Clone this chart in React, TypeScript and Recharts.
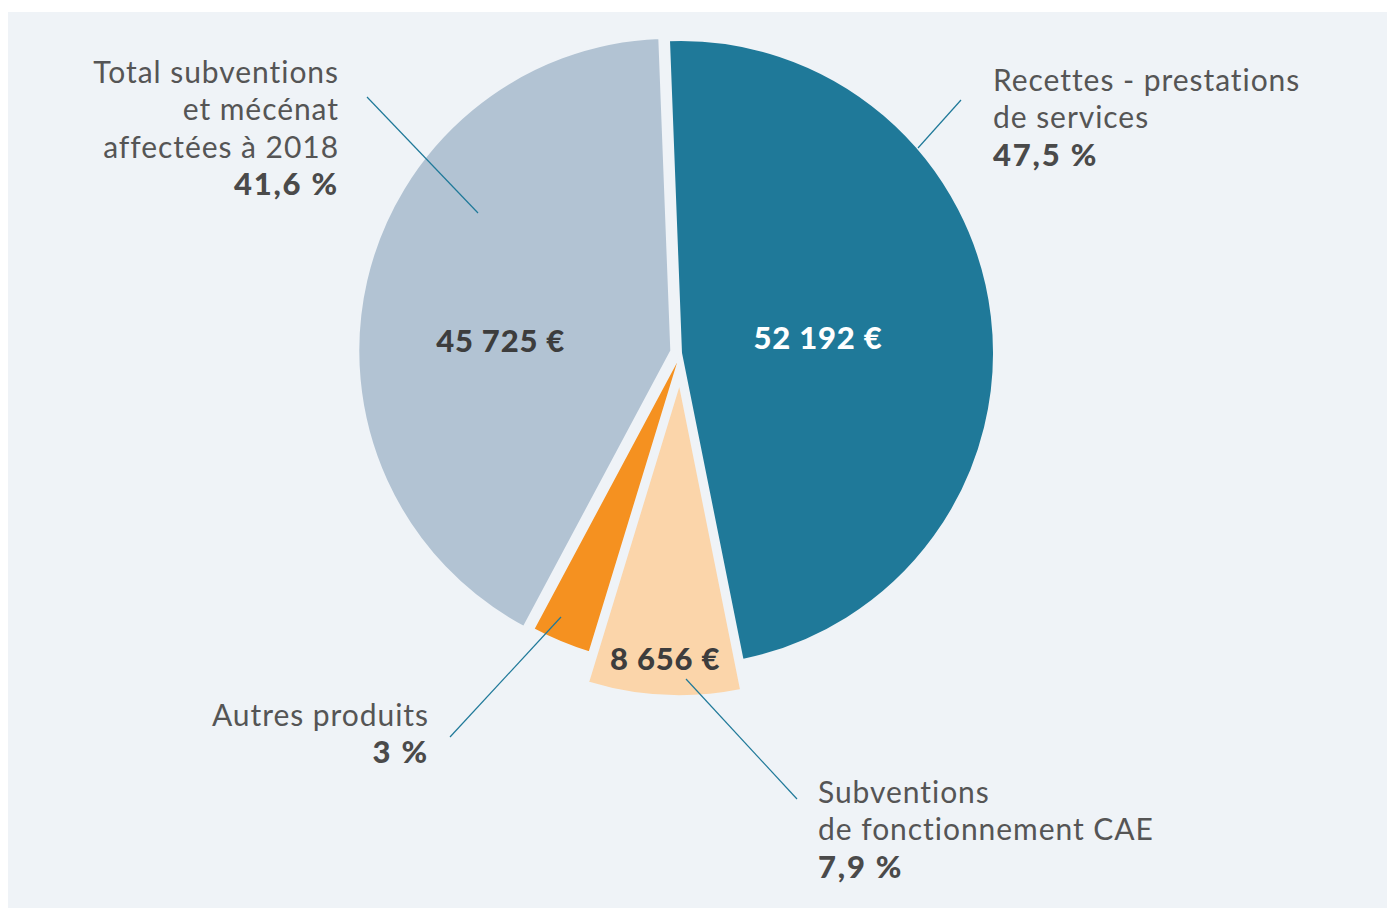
import React from 'react';
import { PieChart, Pie, Cell } from 'recharts';

const categories = [
  'Recettes - prestations de services',
  'Subventions de fonctionnement CAE',
  'Autres produits',
  'Total subventions et mécénat affectées à 2018',
];
const amounts = [52192, 8656, 3400, 45725];
const amountLabels = ['52 192 €', '8 656 €', '', '45 725 €'];
const percentLabels = ['47,5 %', '7,9 %', '3 %', '41,6 %'];
const nameLines = [
  ['Recettes - prestations', 'de services'],
  ['Subventions', 'de fonctionnement CAE'],
  ['Autres produits'],
  ['Total subventions', 'et mécénat', 'affectées à 2018'],
];
const colors = ['#1f7999', '#fbd5aa', '#f59120', '#b2c3d3'];
const valueLabelColors = ['#ffffff', '#3d3d3d', '#3d3d3d', '#3d3d3d'];

const BG = '#eff3f7';
const TEXT = '#555555';
const BOLD = '#4a4a4a';
const LINE = '#1f7999';
const FONT = 'Lato, "Open Sans", sans-serif';

const data = categories.map((name, i) => ({ name, value: amounts[i] }));

const W = 1387;
const H = 896;
const R = 313;
const START = 92.2;
const END = START - 360;

// which slices each pie layer shows, and where its centre sits
const layers = [
  { show: [0, 2], cx: 673, cy: 341 },
  { show: [3], cx: 663.3, cy: 338.8 },
  { show: [1], cx: 671.5, cy: 371 },
];
// value label placement: [radius, angle | null(midAngle)]
const valuePos: Record<number, [number, number | null]> = {
  0: [138, null],
  1: [275, -93],
  3: [171, 176.3],
};

const RAD = Math.PI / 180;

function makeLabel(show: number[]) {
  return (props: any) => {
    const { cx, cy, midAngle, index } = props;
    if (!show.includes(index) || !amountLabels[index]) return null;
    const pos = valuePos[index];
    if (!pos) return null;
    const a = pos[1] == null ? midAngle : pos[1];
    const x = cx + pos[0] * Math.cos(-a * RAD);
    const y = cy + pos[0] * Math.sin(-a * RAD);
    return (
      <text
        x={x}
        y={y}
        textAnchor="middle"
        dominantBaseline="central"
        fill={valueLabelColors[index]}
        fontFamily={FONT}
        fontWeight={900}
        fontSize={31}
        letterSpacing={0.8}
      >
        {amountLabels[index]}
      </text>
    );
  };
}

// outer annotations: [x, firstLineCenterY, anchor]
const annot: Record<number, [number, number, 'start' | 'end']> = {
  0: [985, 67, 'start'],
  1: [810, 779, 'start'],
  2: [421, 702, 'end'],
  3: [331, 59, 'end'],
};
const leaders: [number, number, number, number][] = [
  [953, 88, 910, 136],
  [678, 667, 789, 787],
  [553, 605, 442, 725],
  [359, 85, 470, 201],
];
const LH = 37.4;

export default function App() {
  return (
    <div style={{ position: 'relative', width: W, height: H, background: BG, marginTop: 4 }}>
      <PieChart width={W} height={H} margin={{ top: 0, right: 0, bottom: 0, left: 0 }}>
        {layers.map((layer, li) => (
          <Pie
            key={li}
            data={data}
            dataKey="value"
            nameKey="name"
            cx={layer.cx}
            cy={layer.cy}
            outerRadius={R}
            startAngle={START}
            endAngle={END}
            stroke={BG}
            strokeWidth={2}
            isAnimationActive={false}
            labelLine={false}
            label={makeLabel(layer.show)}
          >
            {data.map((d, i) => (
              <Cell
                key={d.name}
                fill={layer.show.includes(i) ? colors[i] : 'transparent'}
                stroke={layer.show.includes(i) ? BG : 'none'}
              />
            ))}
          </Pie>
        ))}
      </PieChart>
      <svg
        width={W}
        height={H}
        style={{ position: 'absolute', left: 0, top: 0, pointerEvents: 'none' }}
      >
        {leaders.map((l, i) => (
          <line key={i} x1={l[0]} y1={l[1]} x2={l[2]} y2={l[3]} stroke={LINE} strokeWidth={1.2} />
        ))}
        {categories.map((c, i) => {
          const [x, y0, anchor] = annot[i];
          const lines = nameLines[i];
          return (
            <g key={c} fontFamily={FONT} fontSize={30} textAnchor={anchor}>
              {lines.map((t, k) => (
                <text
                  key={k}
                  x={x}
                  y={y0 + k * LH}
                  dominantBaseline="central"
                  fill={TEXT}
                  letterSpacing={0.95}
                >
                  {t}
                </text>
              ))}
              <text
                x={x}
                y={y0 + lines.length * LH}
                dominantBaseline="central"
                fill={BOLD}
                fontWeight={900}
                fontSize={31}
                letterSpacing={1.8}
              >
                {percentLabels[i]}
              </text>
            </g>
          );
        })}
      </svg>
    </div>
  );
}
